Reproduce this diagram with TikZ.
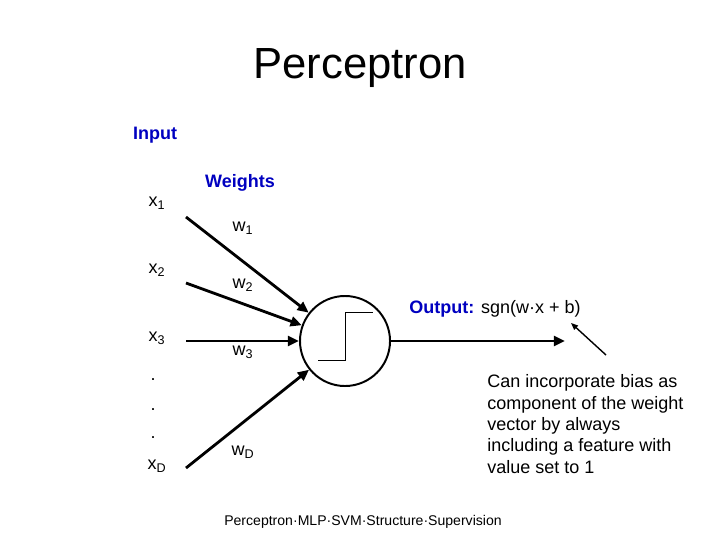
\documentclass[tikz,border=0pt]{standalone}
\usepackage{fontspec}
\setmainfont{Liberation Sans}
\usetikzlibrary{arrows.meta,calc}
\definecolor{ink}{HTML}{000000}
\definecolor{navy}{HTML}{0000C0}

\begin{document}
\begin{tikzpicture}[x=0.025cm,y=-0.025cm,text=ink,font=\fontsize{12.8}{15.2}\selectfont,>={Triangle[length=8pt,width=7pt]},
  heading/.style={navy,font=\fontsize{12.8}{15.2}\selectfont\bfseries},
  feed/.style={->,line width=2pt,ink}]
  \useasboundingbox (0,0) rectangle (720,540);
  \node (title) at (360,68) {\fontsize{31}{36}\selectfont Perceptron};
  \node[heading] (input) at (155,135) {Input};
  \node[heading] (weights) at (240,183) {Weights};
  \node[draw,circle,line width=1.4pt,minimum size=2.25cm] (neuron) at (345,341) {};
  \draw[line width=0.7pt] ($(neuron.center)+(-27,19)$) -| ($(neuron.center)+(0,-29)$) -- ($(neuron.center)+(28,-29)$);
  \foreach \n/\ly/\sy/\wy in {1/203/217/228,2/270/283/285,3/338/341/352,D/466/468/452}{
    \node (x\n) at (157,\ly) {x\textsubscript{\n}};
    \coordinate (s\n) at (186,\sy);
    \node (w\n) at (243,\wy) {w\textsubscript{\n}};
    \draw[feed] (s\n) -- (neuron);
  }
  \foreach \y [count=\k] in {380,410,438}{
    \node (dot\k) at (153,\y) {.};
  }
  \coordinate (out) at (565,341);
  \draw[feed] (neuron) -- (out);
  \node (output) at (495,309) {\textcolor{navy}{\bfseries Output:} sgn(w·x + b)};
  \coordinate (ptail) at (606,355);
  \coordinate (phead) at (571,323);
  \draw[-{Triangle[length=5pt,width=4pt]},line width=1pt] (ptail) -- (phead);
  \node[anchor=west,align=left,inner sep=0pt] (bias) at (487,424) {Can incorporate bias as\\component of the weight\\vector by always\\including a feature with\\value set to 1};
  \node[font=\fontsize{10}{12}\selectfont] (footer) at (363,522) {Perceptron·MLP·SVM·Structure·Supervision};
\end{tikzpicture}
\end{document}
